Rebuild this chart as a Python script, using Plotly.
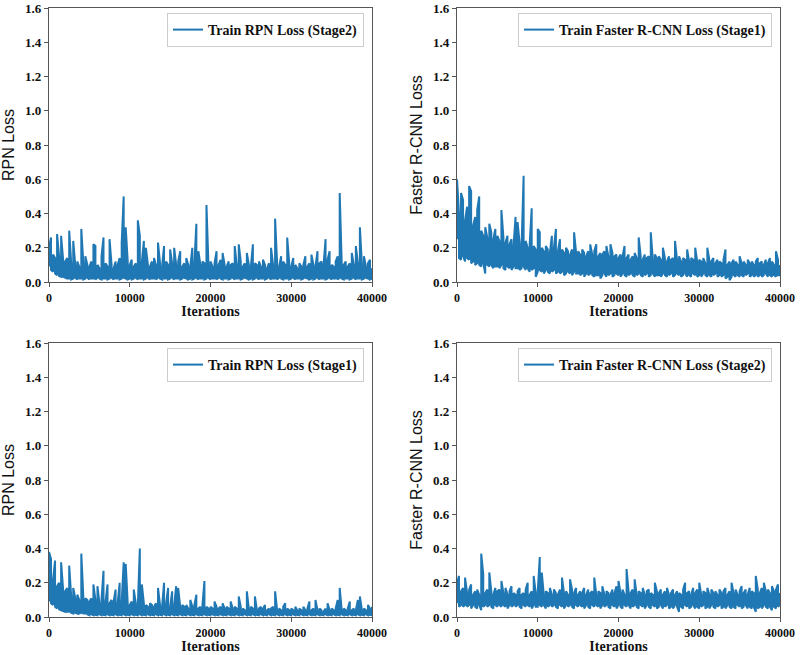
import plotly.graph_objects as go

# Iterations sampled every 250 (0 .. 40000); for each sample the local
# minimum (low) and maximum (high) of the dense loss curve read off the picture
iterations = [i * 250 for i in range(161)]

rpn_stage2_high = [
    0.20, 0.26, 0.16, 0.14, 0.28, 0.15, 0.27, 0.13, 0.12, 0.14,
    0.30, 0.11, 0.24, 0.10, 0.12, 0.09, 0.31, 0.11, 0.15, 0.10,
    0.09, 0.12, 0.22, 0.21, 0.10, 0.08, 0.15, 0.26, 0.11, 0.09,
    0.25, 0.10, 0.08, 0.12, 0.10, 0.14, 0.23, 0.50, 0.32, 0.12,
    0.10, 0.13, 0.09, 0.11, 0.36, 0.27, 0.12, 0.24, 0.20, 0.10,
    0.09, 0.12, 0.14, 0.10, 0.23, 0.11, 0.09, 0.21, 0.12, 0.10,
    0.19, 0.11, 0.20, 0.10, 0.12, 0.18, 0.09, 0.11, 0.14, 0.10,
    0.09, 0.20, 0.11, 0.34, 0.18, 0.10, 0.12, 0.11, 0.45, 0.10,
    0.12, 0.09, 0.11, 0.18, 0.10, 0.13, 0.17, 0.10, 0.09, 0.12,
    0.10, 0.11, 0.21, 0.10, 0.22, 0.12, 0.09, 0.11, 0.17, 0.10,
    0.09, 0.22, 0.11, 0.10, 0.12, 0.09, 0.13, 0.10, 0.08, 0.11,
    0.20, 0.10, 0.37, 0.11, 0.09, 0.15, 0.12, 0.10, 0.26, 0.11,
    0.09, 0.14, 0.10, 0.08, 0.11, 0.09, 0.10, 0.15, 0.09, 0.11,
    0.16, 0.10, 0.09, 0.18, 0.11, 0.12, 0.10, 0.25, 0.13, 0.18,
    0.10, 0.09, 0.12, 0.15, 0.52, 0.11, 0.10, 0.12, 0.09, 0.11,
    0.17, 0.10, 0.21, 0.11, 0.32, 0.10, 0.15, 0.09, 0.11, 0.13,
    0.08,
]
rpn_stage2_low = [
    0.09, 0.07, 0.06, 0.05, 0.04, 0.035, 0.03, 0.03, 0.025, 0.02,
    0.02, 0.015, 0.02, 0.025, 0.015, 0.02, 0.02, 0.015, 0.02, 0.025,
    0.015, 0.02, 0.02, 0.015, 0.025, 0.02, 0.015, 0.02, 0.02, 0.015,
    0.02, 0.025, 0.015, 0.02, 0.02, 0.015, 0.02, 0.025, 0.02, 0.015,
    0.02, 0.015, 0.02, 0.025, 0.015, 0.02, 0.02, 0.015, 0.02, 0.025,
    0.015, 0.02, 0.02, 0.015, 0.025, 0.02, 0.015, 0.02, 0.02, 0.015,
    0.02, 0.025, 0.015, 0.02, 0.02, 0.015, 0.02, 0.025, 0.02, 0.015,
    0.02, 0.015, 0.02, 0.025, 0.015, 0.02, 0.02, 0.015, 0.02, 0.025,
    0.015, 0.02, 0.02, 0.015, 0.025, 0.02, 0.015, 0.02, 0.02, 0.015,
    0.02, 0.025, 0.015, 0.02, 0.02, 0.015, 0.02, 0.025, 0.02, 0.015,
    0.02, 0.015, 0.02, 0.025, 0.015, 0.02, 0.02, 0.015, 0.02, 0.025,
    0.015, 0.02, 0.02, 0.015, 0.025, 0.02, 0.015, 0.02, 0.02, 0.015,
    0.02, 0.025, 0.015, 0.02, 0.02, 0.015, 0.02, 0.025, 0.02, 0.015,
    0.02, 0.015, 0.02, 0.025, 0.015, 0.02, 0.02, 0.015, 0.02, 0.025,
    0.015, 0.02, 0.02, 0.015, 0.025, 0.02, 0.015, 0.02, 0.02, 0.015,
    0.02, 0.025, 0.015, 0.02, 0.02, 0.015, 0.02, 0.025, 0.02, 0.015,
    0.02,
]

frcnn_stage1_high = [
    0.60, 0.40, 0.52, 0.48, 0.36, 0.44, 0.56, 0.53, 0.33, 0.38,
    0.42, 0.50, 0.30, 0.27, 0.32, 0.26, 0.34, 0.29, 0.25, 0.31,
    0.27, 0.24, 0.42, 0.26, 0.23, 0.27, 0.22, 0.25, 0.21, 0.38,
    0.35, 0.23, 0.21, 0.62, 0.24, 0.20, 0.22, 0.43, 0.21, 0.19,
    0.31, 0.29, 0.20, 0.18, 0.21, 0.19, 0.17, 0.27, 0.20, 0.31,
    0.18, 0.25, 0.19, 0.17, 0.20, 0.18, 0.16, 0.19, 0.29, 0.17,
    0.18, 0.16, 0.19, 0.17, 0.15, 0.18, 0.22, 0.16, 0.18, 0.22,
    0.15, 0.17, 0.16, 0.18, 0.21, 0.15, 0.22, 0.17, 0.15, 0.16,
    0.14, 0.16, 0.15, 0.21, 0.14, 0.16, 0.13, 0.15, 0.17, 0.14,
    0.26, 0.15, 0.13, 0.16, 0.14, 0.15, 0.29, 0.13, 0.16, 0.14,
    0.15, 0.13, 0.20, 0.14, 0.12, 0.15, 0.13, 0.14, 0.24, 0.13,
    0.15, 0.12, 0.14, 0.13, 0.19, 0.12, 0.14, 0.13, 0.20, 0.12,
    0.13, 0.12, 0.14, 0.11, 0.20, 0.13, 0.12, 0.14, 0.11, 0.13,
    0.12, 0.11, 0.13, 0.19, 0.10, 0.12, 0.11, 0.13, 0.12, 0.10,
    0.15, 0.11, 0.12, 0.10, 0.13, 0.11, 0.12, 0.10, 0.12, 0.14,
    0.11, 0.12, 0.10, 0.13, 0.11, 0.14, 0.12, 0.10, 0.18, 0.13,
    0.10,
]
frcnn_stage1_low = [
    0.25, 0.14, 0.13, 0.15, 0.12, 0.14, 0.13, 0.11, 0.12, 0.10,
    0.11, 0.10, 0.09, 0.11, 0.05, 0.10, 0.09, 0.10, 0.08, 0.09,
    0.09, 0.08, 0.10, 0.08, 0.07, 0.09, 0.08, 0.07, 0.09, 0.08,
    0.08, 0.07, 0.08, 0.09, 0.07, 0.08, 0.06, 0.07, 0.08, 0.03,
    0.06, 0.07, 0.06, 0.05, 0.07, 0.06, 0.05, 0.06, 0.07, 0.05,
    0.06, 0.05, 0.06, 0.04, 0.05, 0.06, 0.05, 0.04, 0.06, 0.05,
    0.05, 0.04, 0.05, 0.03, 0.05, 0.04, 0.05, 0.04, 0.03, 0.04,
    0.04, 0.02, 0.04, 0.05, 0.03, 0.04, 0.05, 0.03, 0.04, 0.05,
    0.04, 0.03, 0.05, 0.04, 0.03, 0.04, 0.05, 0.04, 0.03, 0.04,
    0.05, 0.04, 0.03, 0.04, 0.05, 0.03, 0.04, 0.05, 0.03, 0.04,
    0.04, 0.03, 0.05, 0.04, 0.03, 0.04, 0.05, 0.03, 0.04, 0.05,
    0.04, 0.03, 0.04, 0.05, 0.03, 0.04, 0.03, 0.05, 0.04, 0.03,
    0.04, 0.03, 0.05, 0.04, 0.03, 0.04, 0.03, 0.04, 0.05, 0.03,
    0.04, 0.03, 0.04, 0.02, 0.03, 0.01, 0.03, 0.04, 0.03, 0.04,
    0.03, 0.04, 0.03, 0.04, 0.05, 0.03, 0.04, 0.03, 0.04, 0.03,
    0.04, 0.03, 0.04, 0.05, 0.03, 0.04, 0.03, 0.04, 0.03, 0.04,
    0.04,
]

rpn_stage1_high = [
    0.38, 0.34, 0.22, 0.33, 0.18, 0.20, 0.32, 0.16, 0.15, 0.17,
    0.30, 0.12, 0.17, 0.11, 0.13, 0.10, 0.37, 0.12, 0.11, 0.10,
    0.09, 0.11, 0.19, 0.10, 0.18, 0.08, 0.10, 0.27, 0.09, 0.19,
    0.08, 0.10, 0.09, 0.16, 0.08, 0.20, 0.09, 0.32, 0.31, 0.08,
    0.07, 0.09, 0.16, 0.08, 0.07, 0.40, 0.19, 0.08, 0.07, 0.06,
    0.08, 0.07, 0.06, 0.08, 0.17, 0.07, 0.06, 0.20, 0.08, 0.17,
    0.06, 0.15, 0.07, 0.18, 0.17, 0.06, 0.07, 0.06, 0.07, 0.05,
    0.10, 0.06, 0.07, 0.13, 0.05, 0.06, 0.07, 0.21, 0.06, 0.05,
    0.06, 0.05, 0.09, 0.06, 0.05, 0.06, 0.08, 0.05, 0.06, 0.05,
    0.09, 0.05, 0.06, 0.05, 0.12, 0.06, 0.05, 0.04, 0.15, 0.05,
    0.06, 0.05, 0.12, 0.04, 0.05, 0.06, 0.05, 0.07, 0.04, 0.05,
    0.05, 0.06, 0.15, 0.04, 0.05, 0.04, 0.06, 0.08, 0.05, 0.04,
    0.05, 0.04, 0.06, 0.04, 0.05, 0.04, 0.06, 0.04, 0.05, 0.09,
    0.04, 0.05, 0.10, 0.04, 0.05, 0.04, 0.03, 0.05, 0.08, 0.04,
    0.05, 0.04, 0.05, 0.10, 0.17, 0.04, 0.05, 0.04, 0.05, 0.09,
    0.04, 0.05, 0.04, 0.10, 0.12, 0.04, 0.05, 0.04, 0.07, 0.05,
    0.06,
]
rpn_stage1_low = [
    0.09, 0.08, 0.07, 0.06, 0.05, 0.045, 0.04, 0.035, 0.03, 0.03,
    0.03, 0.025, 0.02, 0.025, 0.02, 0.02, 0.025, 0.02, 0.02, 0.015,
    0.01, 0.015, 0.01, 0.012, 0.01, 0.015, 0.01, 0.012, 0.01, 0.015,
    0.01, 0.012, 0.01, 0.015, 0.01, 0.012, 0.01, 0.015, 0.01, 0.012,
    0.01, 0.015, 0.01, 0.012, 0.01, 0.015, 0.01, 0.012, 0.01, 0.015,
    0.01, 0.012, 0.01, 0.015, 0.01, 0.012, 0.01, 0.015, 0.01, 0.012,
    0.01, 0.015, 0.01, 0.012, 0.01, 0.015, 0.01, 0.012, 0.01, 0.015,
    0.01, 0.012, 0.01, 0.015, 0.01, 0.012, 0.01, 0.015, 0.01, 0.012,
    0.01, 0.015, 0.01, 0.012, 0.01, 0.015, 0.01, 0.012, 0.01, 0.015,
    0.01, 0.012, 0.01, 0.015, 0.01, 0.012, 0.01, 0.015, 0.01, 0.012,
    0.01, 0.015, 0.01, 0.012, 0.01, 0.015, 0.01, 0.012, 0.01, 0.015,
    0.01, 0.012, 0.01, 0.015, 0.01, 0.012, 0.01, 0.015, 0.01, 0.012,
    0.01, 0.015, 0.01, 0.012, 0.01, 0.015, 0.01, 0.012, 0.01, 0.015,
    0.01, 0.012, 0.01, 0.015, 0.01, 0.012, 0.01, 0.015, 0.01, 0.012,
    0.01, 0.015, 0.01, 0.012, 0.01, 0.015, 0.01, 0.012, 0.01, 0.015,
    0.01, 0.012, 0.01, 0.015, 0.01, 0.012, 0.01, 0.015, 0.01, 0.012,
    0.01,
]

frcnn_stage2_high = [
    0.20, 0.24, 0.15, 0.17, 0.23, 0.14, 0.16, 0.19, 0.13, 0.15,
    0.16, 0.13, 0.37, 0.25, 0.14, 0.16, 0.26, 0.15, 0.13, 0.17,
    0.15, 0.16, 0.21, 0.14, 0.17, 0.13, 0.15, 0.18, 0.14, 0.13,
    0.15, 0.17, 0.13, 0.14, 0.16, 0.20, 0.13, 0.15, 0.24, 0.14,
    0.15, 0.35, 0.26, 0.13, 0.15, 0.14, 0.17, 0.13, 0.16, 0.14,
    0.13, 0.16, 0.23, 0.14, 0.15, 0.13, 0.22, 0.16, 0.14, 0.17,
    0.13, 0.15, 0.14, 0.17, 0.13, 0.16, 0.14, 0.15, 0.23, 0.13,
    0.15, 0.14, 0.18, 0.13, 0.15, 0.14, 0.13, 0.16, 0.14, 0.18,
    0.21, 0.14, 0.16, 0.13, 0.28, 0.15, 0.14, 0.16, 0.22, 0.13,
    0.15, 0.14, 0.17, 0.13, 0.15, 0.16, 0.14, 0.13, 0.20, 0.15,
    0.14, 0.16, 0.13, 0.15, 0.17, 0.13, 0.14, 0.16, 0.13, 0.15,
    0.14, 0.13, 0.16, 0.20, 0.14, 0.15, 0.13, 0.17, 0.14, 0.16,
    0.20, 0.13, 0.15, 0.14, 0.17, 0.13, 0.16, 0.14, 0.15, 0.13,
    0.16, 0.14, 0.15, 0.17, 0.13, 0.15, 0.20, 0.14, 0.16, 0.13,
    0.15, 0.18, 0.14, 0.16, 0.13, 0.17, 0.15, 0.14, 0.24, 0.16,
    0.14, 0.17, 0.20, 0.15, 0.16, 0.14, 0.18, 0.15, 0.16, 0.19,
    0.14,
]
frcnn_stage2_low = [
    0.08, 0.06, 0.07, 0.06, 0.07, 0.06, 0.07, 0.05, 0.07, 0.06,
    0.05, 0.07, 0.04, 0.06, 0.07, 0.06, 0.07, 0.06, 0.05, 0.07,
    0.06, 0.07, 0.06, 0.07, 0.06, 0.05, 0.07, 0.06, 0.07, 0.06,
    0.07, 0.06, 0.05, 0.07, 0.06, 0.07, 0.06, 0.05, 0.07, 0.06,
    0.06, 0.07, 0.06, 0.07, 0.05, 0.06, 0.07, 0.06, 0.07, 0.06,
    0.05, 0.07, 0.06, 0.05, 0.07, 0.06, 0.07, 0.06, 0.05, 0.07,
    0.06, 0.07, 0.06, 0.05, 0.07, 0.06, 0.05, 0.07, 0.06, 0.07,
    0.06, 0.05, 0.07, 0.06, 0.07, 0.06, 0.05, 0.07, 0.06, 0.05,
    0.07, 0.06, 0.05, 0.07, 0.06, 0.07, 0.05, 0.06, 0.07, 0.06,
    0.05, 0.07, 0.06, 0.05, 0.07, 0.06, 0.05, 0.07, 0.06, 0.05,
    0.06, 0.07, 0.05, 0.06, 0.07, 0.05, 0.06, 0.05, 0.07, 0.06,
    0.03, 0.06, 0.05, 0.07, 0.06, 0.05, 0.06, 0.07, 0.05, 0.06,
    0.05, 0.06, 0.07, 0.05, 0.06, 0.05, 0.07, 0.06, 0.05, 0.06,
    0.07, 0.05, 0.06, 0.05, 0.07, 0.06, 0.05, 0.06, 0.05, 0.07,
    0.06, 0.05, 0.06, 0.07, 0.05, 0.06, 0.05, 0.06, 0.03, 0.05,
    0.06, 0.05, 0.07, 0.06, 0.05, 0.06, 0.04, 0.06, 0.05, 0.06,
    0.07,
]

series_names = [
    "Train RPN Loss (Stage2)",
    "Train Faster R-CNN Loss (Stage1)",
    "Train RPN Loss (Stage1)",
    "Train Faster R-CNN Loss (Stage2)",
]
y_titles = ["RPN Loss", "Faster R-CNN Loss", "RPN Loss", "Faster R-CNN Loss"]
x_title = "Iterations"
x_ticks = [0, 10000, 20000, 30000, 40000]
y_ticks = [0.0, 0.2, 0.4, 0.6, 0.8, 1.0, 1.2, 1.4, 1.6]

W, H = 800, 655
# plot boxes in pixels: (left, right, top, bottom)
boxes = [
    (49, 372, 8, 282),
    (457, 780, 8, 282),
    (49, 372, 343, 617),
    (457, 780, 343, 617),
]

lows = [rpn_stage2_low, frcnn_stage1_low, rpn_stage1_low, frcnn_stage2_low]
highs = [rpn_stage2_high, frcnn_stage1_high, rpn_stage1_high, frcnn_stage2_high]
color = "#1f77b4"
serif = "Liberation Serif"
sans = "Liberation Sans"
axis_col = "#555555"

fig = go.Figure()
layout = dict(
    width=W, height=H,
    margin=dict(l=0, r=0, t=0, b=0),
    paper_bgcolor="white", plot_bgcolor="white",
    showlegend=True,
)

for k in range(4):
    n = "" if k == 0 else str(k + 1)
    leg = "legend" if k == 0 else "legend" + str(k + 1)
    xs, ys = [], []
    for i, it in enumerate(iterations):
        lo, hi = lows[k][i], highs[k][i]
        pair = (lo, hi) if i % 2 == 0 else (hi, lo)
        xs += [it, it]
        ys += list(pair)
    fig.add_trace(go.Scatter(
        x=xs, y=ys, mode="lines",
        line=dict(color=color, width=2),
        name=series_names[k],
        xaxis="x" + n, yaxis="y" + n, legend=leg,
    ))
    l, r, t, b = boxes[k]
    layout["xaxis" + n] = dict(
        domain=[l / W, r / W], anchor="y" + n,
        range=[0, 40000], tickvals=x_ticks, ticktext=[str(v) for v in x_ticks],
        showline=True, mirror=True, linecolor=axis_col, linewidth=1.2,
        ticks="outside", ticklen=4, tickcolor=axis_col,
        showgrid=False, zeroline=False, automargin=False,
        ticklabeloverflow="allow",
        tickfont=dict(family=serif, size=12, color="#111", weight="bold"),
        title=dict(text=x_title, standoff=2,
                   font=dict(family=serif, size=14, color="#111", weight="bold")),
    )
    layout["yaxis" + n] = dict(
        domain=[1 - b / H, 1 - t / H], anchor="x" + n,
        range=[0, 1.6], tickvals=y_ticks, ticktext=["%.1f" % v for v in y_ticks],
        showline=True, mirror=True, linecolor=axis_col, linewidth=1.2,
        ticks="outside", ticklen=4, tickcolor=axis_col,
        showgrid=False, zeroline=False, automargin=False,
        ticklabeloverflow="allow",
        tickfont=dict(family=serif, size=13, color="#111", weight="bold"),
        title=dict(text=y_titles[k], standoff=6,
                   font=dict(family=sans, size=16, color="#111")),
    )
    layout[leg] = dict(
        x=(r - 8) / W, xanchor="right",
        y=1 - (t + 5) / H, yanchor="top",
        bgcolor="white", bordercolor="#cccccc", borderwidth=1,
        font=dict(family=serif, size=14, color="#111", weight="bold"),
        itemwidth=30, tracegroupgap=0,
    )

fig.update_layout(**layout)
fig.write_html(
    "out.html",
    config={"displayModeBar": False},
    post_script="document.body.style.margin='0';document.body.style.padding='0';",
)
